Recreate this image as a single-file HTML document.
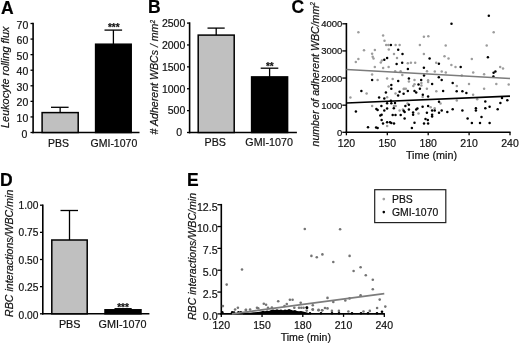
<!DOCTYPE html>
<html><head><meta charset="utf-8"><title>Figure</title>
<style>
html,body{margin:0;padding:0;background:#fff;}
svg{display:block;will-change:transform;font-family:"Liberation Sans", Arial, sans-serif;}
</style></head>
<body>
<svg width="520" height="345" viewBox="0 0 520 345">
<rect x="0" y="0" width="520" height="345" fill="#fff"/>
<text x="0.90" y="13.50" font-size="17.5" text-anchor="start" font-weight="bold" font-style="normal" fill="#000" stroke="#000" stroke-width="0.2">A</text>
<line x1="33.10" y1="22.70" x2="33.10" y2="133.30" stroke="#000" stroke-width="1.6" stroke-linecap="butt"/>
<line x1="32.30" y1="132.50" x2="139.50" y2="132.50" stroke="#000" stroke-width="1.6" stroke-linecap="butt"/>
<line x1="30.50" y1="132.50" x2="33.10" y2="132.50" stroke="#000" stroke-width="1.3" stroke-linecap="butt"/>
<text x="27.30" y="137.60" font-size="10.5" text-anchor="end" font-weight="normal" font-style="normal" fill="#111" stroke="#111" stroke-width="0.2">0</text>
<line x1="30.50" y1="116.93" x2="33.10" y2="116.93" stroke="#000" stroke-width="1.3" stroke-linecap="butt"/>
<text x="28.30" y="122.01" font-size="10.5" text-anchor="end" font-weight="normal" font-style="normal" fill="#111" stroke="#111" stroke-width="0.2">10</text>
<line x1="30.50" y1="101.36" x2="33.10" y2="101.36" stroke="#000" stroke-width="1.3" stroke-linecap="butt"/>
<text x="28.30" y="106.43" font-size="10.5" text-anchor="end" font-weight="normal" font-style="normal" fill="#111" stroke="#111" stroke-width="0.2">20</text>
<line x1="30.50" y1="85.79" x2="33.10" y2="85.79" stroke="#000" stroke-width="1.3" stroke-linecap="butt"/>
<text x="28.30" y="90.84" font-size="10.5" text-anchor="end" font-weight="normal" font-style="normal" fill="#111" stroke="#111" stroke-width="0.2">30</text>
<line x1="30.50" y1="70.21" x2="33.10" y2="70.21" stroke="#000" stroke-width="1.3" stroke-linecap="butt"/>
<text x="28.30" y="75.26" font-size="10.5" text-anchor="end" font-weight="normal" font-style="normal" fill="#111" stroke="#111" stroke-width="0.2">40</text>
<line x1="30.50" y1="54.64" x2="33.10" y2="54.64" stroke="#000" stroke-width="1.3" stroke-linecap="butt"/>
<text x="28.30" y="59.67" font-size="10.5" text-anchor="end" font-weight="normal" font-style="normal" fill="#111" stroke="#111" stroke-width="0.2">50</text>
<line x1="30.50" y1="39.07" x2="33.10" y2="39.07" stroke="#000" stroke-width="1.3" stroke-linecap="butt"/>
<text x="28.30" y="44.09" font-size="10.5" text-anchor="end" font-weight="normal" font-style="normal" fill="#111" stroke="#111" stroke-width="0.2">60</text>
<line x1="30.50" y1="23.50" x2="33.10" y2="23.50" stroke="#000" stroke-width="1.3" stroke-linecap="butt"/>
<text x="28.30" y="28.50" font-size="10.5" text-anchor="end" font-weight="normal" font-style="normal" fill="#111" stroke="#111" stroke-width="0.2">70</text>
<rect x="42.10" y="112.60" width="36.10" height="19.90" fill="#c0c0c0" stroke="#000" stroke-width="1.5"/>
<line x1="60.15" y1="107.30" x2="60.15" y2="112.60" stroke="#000" stroke-width="1.3" stroke-linecap="butt"/>
<line x1="51.00" y1="107.30" x2="68.60" y2="107.30" stroke="#000" stroke-width="1.3" stroke-linecap="butt"/>
<rect x="95.60" y="44.20" width="35.60" height="88.30" fill="#000" stroke="#000" stroke-width="1.5"/>
<line x1="113.40" y1="30.10" x2="113.40" y2="44.20" stroke="#000" stroke-width="1.3" stroke-linecap="butt"/>
<line x1="104.50" y1="30.10" x2="122.10" y2="30.10" stroke="#000" stroke-width="1.3" stroke-linecap="butt"/>
<text x="113.80" y="31.40" font-size="10" text-anchor="middle" font-weight="bold" font-style="normal" fill="#111" stroke="#111" stroke-width="0.2">***</text>
<text x="58.50" y="146.70" font-size="10.5" text-anchor="middle" font-weight="normal" font-style="normal" fill="#111" stroke="#111" stroke-width="0.2">PBS</text>
<text x="113.90" y="146.70" font-size="10.5" text-anchor="middle" font-weight="normal" font-style="normal" fill="#111" stroke="#111" stroke-width="0.2">GMI-1070</text>
<text x="9.40" y="77.30" font-size="10.85" text-anchor="middle" font-weight="normal" font-style="italic" fill="#111" stroke="#111" stroke-width="0.2" transform="rotate(-90 9.4 77.3)">Leukocyte rolling flux</text>
<text x="147.90" y="12.80" font-size="17.5" text-anchor="start" font-weight="bold" font-style="normal" fill="#000" stroke="#000" stroke-width="0.2">B</text>
<line x1="189.60" y1="22.30" x2="189.60" y2="133.30" stroke="#000" stroke-width="1.6" stroke-linecap="butt"/>
<line x1="188.80" y1="132.50" x2="296.90" y2="132.50" stroke="#000" stroke-width="1.6" stroke-linecap="butt"/>
<line x1="187.00" y1="132.50" x2="189.60" y2="132.50" stroke="#000" stroke-width="1.3" stroke-linecap="butt"/>
<text x="182.20" y="136.00" font-size="10.5" text-anchor="end" font-weight="normal" font-style="normal" fill="#111" stroke="#111" stroke-width="0.2">0</text>
<line x1="187.00" y1="110.62" x2="189.60" y2="110.62" stroke="#000" stroke-width="1.3" stroke-linecap="butt"/>
<text x="185.30" y="114.26" font-size="10.5" text-anchor="end" font-weight="normal" font-style="normal" fill="#111" stroke="#111" stroke-width="0.2">500</text>
<line x1="187.00" y1="88.74" x2="189.60" y2="88.74" stroke="#000" stroke-width="1.3" stroke-linecap="butt"/>
<text x="185.30" y="92.52" font-size="10.5" text-anchor="end" font-weight="normal" font-style="normal" fill="#111" stroke="#111" stroke-width="0.2">1000</text>
<line x1="187.00" y1="66.86" x2="189.60" y2="66.86" stroke="#000" stroke-width="1.3" stroke-linecap="butt"/>
<text x="185.30" y="70.78" font-size="10.5" text-anchor="end" font-weight="normal" font-style="normal" fill="#111" stroke="#111" stroke-width="0.2">1500</text>
<line x1="187.00" y1="44.98" x2="189.60" y2="44.98" stroke="#000" stroke-width="1.3" stroke-linecap="butt"/>
<text x="185.30" y="49.04" font-size="10.5" text-anchor="end" font-weight="normal" font-style="normal" fill="#111" stroke="#111" stroke-width="0.2">2000</text>
<line x1="187.00" y1="23.10" x2="189.60" y2="23.10" stroke="#000" stroke-width="1.3" stroke-linecap="butt"/>
<text x="185.30" y="27.30" font-size="10.5" text-anchor="end" font-weight="normal" font-style="normal" fill="#111" stroke="#111" stroke-width="0.2">2500</text>
<rect x="198.20" y="35.10" width="36.00" height="97.40" fill="#c0c0c0" stroke="#000" stroke-width="1.5"/>
<line x1="216.20" y1="28.10" x2="216.20" y2="35.10" stroke="#000" stroke-width="1.3" stroke-linecap="butt"/>
<line x1="207.50" y1="28.10" x2="224.70" y2="28.10" stroke="#000" stroke-width="1.3" stroke-linecap="butt"/>
<rect x="251.60" y="76.90" width="36.00" height="55.60" fill="#000" stroke="#000" stroke-width="1.5"/>
<line x1="269.60" y1="68.20" x2="269.60" y2="76.90" stroke="#000" stroke-width="1.3" stroke-linecap="butt"/>
<line x1="260.70" y1="68.20" x2="278.30" y2="68.20" stroke="#000" stroke-width="1.3" stroke-linecap="butt"/>
<text x="269.80" y="70.00" font-size="10" text-anchor="middle" font-weight="bold" font-style="normal" fill="#111" stroke="#111" stroke-width="0.2">**</text>
<text x="215.30" y="145.60" font-size="10.7" text-anchor="middle" font-weight="normal" font-style="normal" fill="#111" stroke="#111" stroke-width="0.2">PBS</text>
<text x="269.10" y="145.60" font-size="10.7" text-anchor="middle" font-weight="normal" font-style="normal" fill="#111" stroke="#111" stroke-width="0.2">GMI-1070</text>
<text x="158.40" y="77.20" font-size="10.6" text-anchor="middle" font-weight="normal" font-style="italic" fill="#111" stroke="#111" stroke-width="0.2" transform="rotate(-90 158.4 77.2)"># Adherent WBCs / mm<tspan font-size="6.5" dy="-3.5">2</tspan></text>
<text x="291.40" y="13.00" font-size="17.5" text-anchor="start" font-weight="bold" font-style="normal" fill="#000" stroke="#000" stroke-width="0.2">C</text>
<line x1="346.40" y1="23.00" x2="346.40" y2="133.10" stroke="#000" stroke-width="1.6" stroke-linecap="butt"/>
<line x1="345.60" y1="132.30" x2="510.60" y2="132.30" stroke="#000" stroke-width="1.6" stroke-linecap="butt"/>
<line x1="342.30" y1="132.30" x2="346.40" y2="132.30" stroke="#000" stroke-width="1.3" stroke-linecap="butt"/>
<text x="342.40" y="136.40" font-size="9.5" text-anchor="end" font-weight="normal" font-style="normal" fill="#111" stroke="#111" stroke-width="0.2">0</text>
<line x1="342.30" y1="105.18" x2="346.40" y2="105.18" stroke="#000" stroke-width="1.3" stroke-linecap="butt"/>
<text x="342.40" y="108.95" font-size="9.5" text-anchor="end" font-weight="normal" font-style="normal" fill="#111" stroke="#111" stroke-width="0.2">1000</text>
<line x1="342.30" y1="78.05" x2="346.40" y2="78.05" stroke="#000" stroke-width="1.3" stroke-linecap="butt"/>
<text x="342.40" y="81.50" font-size="9.5" text-anchor="end" font-weight="normal" font-style="normal" fill="#111" stroke="#111" stroke-width="0.2">2000</text>
<line x1="342.30" y1="50.92" x2="346.40" y2="50.92" stroke="#000" stroke-width="1.3" stroke-linecap="butt"/>
<text x="342.40" y="54.05" font-size="9.5" text-anchor="end" font-weight="normal" font-style="normal" fill="#111" stroke="#111" stroke-width="0.2">3000</text>
<line x1="342.30" y1="23.80" x2="346.40" y2="23.80" stroke="#000" stroke-width="1.3" stroke-linecap="butt"/>
<text x="342.40" y="26.60" font-size="9.5" text-anchor="end" font-weight="normal" font-style="normal" fill="#111" stroke="#111" stroke-width="0.2">4000</text>
<line x1="346.40" y1="132.30" x2="346.40" y2="135.30" stroke="#000" stroke-width="1.3" stroke-linecap="butt"/>
<text x="346.40" y="147.40" font-size="10.5" text-anchor="middle" font-weight="normal" font-style="normal" fill="#111" stroke="#111" stroke-width="0.2">120</text>
<line x1="387.30" y1="132.30" x2="387.30" y2="135.30" stroke="#000" stroke-width="1.3" stroke-linecap="butt"/>
<text x="387.30" y="147.40" font-size="10.5" text-anchor="middle" font-weight="normal" font-style="normal" fill="#111" stroke="#111" stroke-width="0.2">150</text>
<line x1="428.20" y1="132.30" x2="428.20" y2="135.30" stroke="#000" stroke-width="1.3" stroke-linecap="butt"/>
<text x="428.20" y="147.40" font-size="10.5" text-anchor="middle" font-weight="normal" font-style="normal" fill="#111" stroke="#111" stroke-width="0.2">180</text>
<line x1="469.10" y1="132.30" x2="469.10" y2="135.30" stroke="#000" stroke-width="1.3" stroke-linecap="butt"/>
<text x="469.10" y="147.40" font-size="10.5" text-anchor="middle" font-weight="normal" font-style="normal" fill="#111" stroke="#111" stroke-width="0.2">210</text>
<line x1="510.00" y1="132.30" x2="510.00" y2="135.30" stroke="#000" stroke-width="1.3" stroke-linecap="butt"/>
<text x="510.00" y="147.40" font-size="10.5" text-anchor="middle" font-weight="normal" font-style="normal" fill="#111" stroke="#111" stroke-width="0.2">240</text>
<text x="431.50" y="158.80" font-size="10.8" text-anchor="middle" font-weight="normal" font-style="normal" fill="#111" stroke="#111" stroke-width="0.2">Time (min)</text>
<text x="318.70" y="74.30" font-size="10.6" text-anchor="middle" font-weight="normal" font-style="italic" fill="#111" stroke="#111" stroke-width="0.2" transform="rotate(-90 318.7 74.3)">number of adherent WBC/mm<tspan font-size="6.5" dy="-3.5">2</tspan></text>
<circle cx="358.4" cy="32.3" r="1.25" fill="#9c9c9c"/>
<circle cx="383.1" cy="35.5" r="1.25" fill="#9c9c9c"/>
<circle cx="384.5" cy="40.7" r="1.25" fill="#9c9c9c"/>
<circle cx="386.2" cy="45.0" r="1.25" fill="#9c9c9c"/>
<circle cx="388.3" cy="45.0" r="1.25" fill="#9c9c9c"/>
<circle cx="395.6" cy="45.0" r="1.25" fill="#9c9c9c"/>
<circle cx="399.6" cy="45.0" r="1.25" fill="#9c9c9c"/>
<circle cx="419.9" cy="45.0" r="1.25" fill="#9c9c9c"/>
<circle cx="423.9" cy="36.7" r="1.25" fill="#9c9c9c"/>
<circle cx="428.3" cy="36.2" r="1.25" fill="#9c9c9c"/>
<circle cx="364.0" cy="50.2" r="1.25" fill="#9c9c9c"/>
<circle cx="374.9" cy="49.9" r="1.25" fill="#9c9c9c"/>
<circle cx="388.8" cy="49.4" r="1.25" fill="#9c9c9c"/>
<circle cx="372.1" cy="53.7" r="1.25" fill="#9c9c9c"/>
<circle cx="372.7" cy="56.8" r="1.25" fill="#9c9c9c"/>
<circle cx="373.5" cy="58.6" r="1.25" fill="#9c9c9c"/>
<circle cx="394.0" cy="54.0" r="1.25" fill="#9c9c9c"/>
<circle cx="423.9" cy="54.0" r="1.25" fill="#9c9c9c"/>
<circle cx="358.4" cy="58.9" r="1.25" fill="#9c9c9c"/>
<circle cx="355.8" cy="61.9" r="1.25" fill="#9c9c9c"/>
<circle cx="397.0" cy="58.0" r="1.25" fill="#9c9c9c"/>
<circle cx="380.8" cy="62.4" r="1.25" fill="#9c9c9c"/>
<circle cx="381.9" cy="60.6" r="1.25" fill="#9c9c9c"/>
<circle cx="407.8" cy="63.3" r="1.25" fill="#9c9c9c"/>
<circle cx="410.9" cy="62.7" r="1.25" fill="#9c9c9c"/>
<circle cx="415.2" cy="62.7" r="1.25" fill="#9c9c9c"/>
<circle cx="374.8" cy="67.1" r="1.25" fill="#9c9c9c"/>
<circle cx="383.1" cy="68.0" r="1.25" fill="#9c9c9c"/>
<circle cx="388.6" cy="67.1" r="1.25" fill="#9c9c9c"/>
<circle cx="395.2" cy="71.2" r="1.25" fill="#9c9c9c"/>
<circle cx="400.6" cy="71.2" r="1.25" fill="#9c9c9c"/>
<circle cx="427.0" cy="71.2" r="1.25" fill="#9c9c9c"/>
<circle cx="493.7" cy="32.3" r="1.25" fill="#9c9c9c"/>
<circle cx="445.7" cy="45.4" r="1.25" fill="#9c9c9c"/>
<circle cx="486.7" cy="45.4" r="1.25" fill="#9c9c9c"/>
<circle cx="444.5" cy="56.3" r="1.25" fill="#9c9c9c"/>
<circle cx="448.5" cy="58.4" r="1.25" fill="#9c9c9c"/>
<circle cx="471.8" cy="58.9" r="1.25" fill="#9c9c9c"/>
<circle cx="436.2" cy="62.7" r="1.25" fill="#9c9c9c"/>
<circle cx="451.4" cy="65.1" r="1.25" fill="#9c9c9c"/>
<circle cx="455.5" cy="67.0" r="1.25" fill="#9c9c9c"/>
<circle cx="500.2" cy="67.0" r="1.25" fill="#9c9c9c"/>
<circle cx="503.0" cy="68.5" r="1.25" fill="#9c9c9c"/>
<circle cx="434.8" cy="71.4" r="1.25" fill="#9c9c9c"/>
<circle cx="441.7" cy="71.4" r="1.25" fill="#9c9c9c"/>
<circle cx="445.8" cy="72.5" r="1.25" fill="#9c9c9c"/>
<circle cx="473.2" cy="72.5" r="1.25" fill="#9c9c9c"/>
<circle cx="372.1" cy="74.4" r="1.25" fill="#9c9c9c"/>
<circle cx="377.6" cy="79.9" r="1.25" fill="#9c9c9c"/>
<circle cx="387.1" cy="78.5" r="1.25" fill="#9c9c9c"/>
<circle cx="392.7" cy="79.1" r="1.25" fill="#9c9c9c"/>
<circle cx="388.6" cy="86.6" r="1.25" fill="#9c9c9c"/>
<circle cx="366.6" cy="93.5" r="1.25" fill="#9c9c9c"/>
<circle cx="350.4" cy="97.6" r="1.25" fill="#9c9c9c"/>
<circle cx="395.5" cy="93.5" r="1.25" fill="#9c9c9c"/>
<circle cx="387.1" cy="97.2" r="1.25" fill="#9c9c9c"/>
<circle cx="403.7" cy="88.9" r="1.25" fill="#9c9c9c"/>
<circle cx="402.3" cy="75.0" r="1.25" fill="#9c9c9c"/>
<circle cx="414.5" cy="80.0" r="1.25" fill="#9c9c9c"/>
<circle cx="428.1" cy="80.2" r="1.25" fill="#9c9c9c"/>
<circle cx="428.1" cy="82.0" r="1.25" fill="#9c9c9c"/>
<circle cx="408.9" cy="81.4" r="1.25" fill="#9c9c9c"/>
<circle cx="414.5" cy="84.3" r="1.25" fill="#9c9c9c"/>
<circle cx="413.3" cy="86.0" r="1.25" fill="#9c9c9c"/>
<circle cx="421.4" cy="83.1" r="1.25" fill="#9c9c9c"/>
<circle cx="421.4" cy="85.4" r="1.25" fill="#9c9c9c"/>
<circle cx="456.8" cy="86.0" r="1.25" fill="#9c9c9c"/>
<circle cx="426.9" cy="88.7" r="1.25" fill="#9c9c9c"/>
<circle cx="404.1" cy="88.7" r="1.25" fill="#9c9c9c"/>
<circle cx="405.8" cy="88.7" r="1.25" fill="#9c9c9c"/>
<circle cx="436.3" cy="91.2" r="1.25" fill="#9c9c9c"/>
<circle cx="422.6" cy="97.0" r="1.25" fill="#9c9c9c"/>
<circle cx="456.8" cy="100.4" r="1.25" fill="#9c9c9c"/>
<circle cx="407.5" cy="103.4" r="1.25" fill="#9c9c9c"/>
<circle cx="484.1" cy="74.2" r="1.25" fill="#9c9c9c"/>
<circle cx="469.0" cy="83.9" r="1.25" fill="#9c9c9c"/>
<circle cx="496.3" cy="83.9" r="1.25" fill="#9c9c9c"/>
<circle cx="508.7" cy="84.5" r="1.25" fill="#9c9c9c"/>
<circle cx="484.1" cy="88.7" r="1.25" fill="#9c9c9c"/>
<circle cx="473.1" cy="94.7" r="1.25" fill="#9c9c9c"/>
<circle cx="477.2" cy="99.3" r="1.25" fill="#9c9c9c"/>
<circle cx="461.8" cy="75.6" r="1.25" fill="#9c9c9c"/>
<circle cx="372.1" cy="106.1" r="1.25" fill="#9c9c9c"/>
<circle cx="394.0" cy="106.1" r="1.25" fill="#9c9c9c"/>
<circle cx="395.7" cy="106.1" r="1.25" fill="#9c9c9c"/>
<circle cx="399.6" cy="110.5" r="1.25" fill="#9c9c9c"/>
<circle cx="387.1" cy="126.1" r="1.25" fill="#9c9c9c"/>
<circle cx="418.5" cy="113.6" r="1.25" fill="#9c9c9c"/>
<circle cx="430.7" cy="107.3" r="1.25" fill="#9c9c9c"/>
<circle cx="434.7" cy="108.2" r="1.25" fill="#9c9c9c"/>
<circle cx="402.9" cy="109.6" r="1.25" fill="#9c9c9c"/>
<circle cx="440.5" cy="103.4" r="1.25" fill="#9c9c9c"/>
<circle cx="390.9" cy="45.0" r="1.25" fill="#000"/>
<circle cx="398.2" cy="49.7" r="1.25" fill="#000"/>
<circle cx="402.5" cy="54.0" r="1.25" fill="#000"/>
<circle cx="387.1" cy="58.0" r="1.25" fill="#000"/>
<circle cx="384.3" cy="59.8" r="1.25" fill="#000"/>
<circle cx="396.6" cy="64.0" r="1.25" fill="#000"/>
<circle cx="402.2" cy="62.7" r="1.25" fill="#000"/>
<circle cx="407.9" cy="68.9" r="1.25" fill="#000"/>
<circle cx="423.9" cy="67.8" r="1.25" fill="#000"/>
<circle cx="429.6" cy="58.4" r="1.25" fill="#000"/>
<circle cx="488.8" cy="15.8" r="1.25" fill="#000"/>
<circle cx="451.5" cy="23.8" r="1.25" fill="#000"/>
<circle cx="487.9" cy="57.2" r="1.25" fill="#000"/>
<circle cx="438.9" cy="63.8" r="1.25" fill="#000"/>
<circle cx="460.7" cy="67.1" r="1.25" fill="#000"/>
<circle cx="493.6" cy="72.7" r="1.25" fill="#000"/>
<circle cx="495.4" cy="71.5" r="1.25" fill="#000"/>
<circle cx="372.1" cy="80.0" r="1.25" fill="#000"/>
<circle cx="398.2" cy="81.1" r="1.25" fill="#000"/>
<circle cx="391.3" cy="84.9" r="1.25" fill="#000"/>
<circle cx="391.3" cy="88.7" r="1.25" fill="#000"/>
<circle cx="361.4" cy="91.0" r="1.25" fill="#000"/>
<circle cx="385.9" cy="92.6" r="1.25" fill="#000"/>
<circle cx="399.6" cy="91.8" r="1.25" fill="#000"/>
<circle cx="398.1" cy="95.5" r="1.25" fill="#000"/>
<circle cx="379.1" cy="97.6" r="1.25" fill="#000"/>
<circle cx="384.3" cy="98.4" r="1.25" fill="#000"/>
<circle cx="403.6" cy="93.7" r="1.25" fill="#000"/>
<circle cx="390.9" cy="100.8" r="1.25" fill="#000"/>
<circle cx="424.0" cy="75.6" r="1.25" fill="#000"/>
<circle cx="408.9" cy="78.5" r="1.25" fill="#000"/>
<circle cx="421.2" cy="79.9" r="1.25" fill="#000"/>
<circle cx="438.8" cy="77.3" r="1.25" fill="#000"/>
<circle cx="441.7" cy="80.0" r="1.25" fill="#000"/>
<circle cx="452.7" cy="83.1" r="1.25" fill="#000"/>
<circle cx="432.1" cy="83.9" r="1.25" fill="#000"/>
<circle cx="418.5" cy="84.6" r="1.25" fill="#000"/>
<circle cx="419.9" cy="88.7" r="1.25" fill="#000"/>
<circle cx="407.8" cy="90.9" r="1.25" fill="#000"/>
<circle cx="414.5" cy="90.9" r="1.25" fill="#000"/>
<circle cx="416.2" cy="92.4" r="1.25" fill="#000"/>
<circle cx="443.1" cy="90.9" r="1.25" fill="#000"/>
<circle cx="456.7" cy="91.2" r="1.25" fill="#000"/>
<circle cx="422.8" cy="94.7" r="1.25" fill="#000"/>
<circle cx="428.1" cy="96.4" r="1.25" fill="#000"/>
<circle cx="439.0" cy="101.8" r="1.25" fill="#000"/>
<circle cx="493.4" cy="76.5" r="1.25" fill="#000"/>
<circle cx="462.4" cy="91.2" r="1.25" fill="#000"/>
<circle cx="466.4" cy="93.0" r="1.25" fill="#000"/>
<circle cx="485.3" cy="101.4" r="1.25" fill="#000"/>
<circle cx="502.0" cy="97.9" r="1.25" fill="#000"/>
<circle cx="507.3" cy="100.3" r="1.25" fill="#000"/>
<circle cx="500.4" cy="103.0" r="1.25" fill="#000"/>
<circle cx="387.1" cy="103.2" r="1.25" fill="#000"/>
<circle cx="391.3" cy="103.2" r="1.25" fill="#000"/>
<circle cx="395.0" cy="103.0" r="1.25" fill="#000"/>
<circle cx="381.4" cy="106.1" r="1.25" fill="#000"/>
<circle cx="376.4" cy="109.0" r="1.25" fill="#000"/>
<circle cx="377.6" cy="109.9" r="1.25" fill="#000"/>
<circle cx="387.1" cy="108.4" r="1.25" fill="#000"/>
<circle cx="384.3" cy="110.5" r="1.25" fill="#000"/>
<circle cx="393.8" cy="108.2" r="1.25" fill="#000"/>
<circle cx="355.9" cy="111.6" r="1.25" fill="#000"/>
<circle cx="380.3" cy="115.6" r="1.25" fill="#000"/>
<circle cx="381.6" cy="114.8" r="1.25" fill="#000"/>
<circle cx="392.7" cy="115.0" r="1.25" fill="#000"/>
<circle cx="395.5" cy="115.0" r="1.25" fill="#000"/>
<circle cx="400.7" cy="115.0" r="1.25" fill="#000"/>
<circle cx="403.7" cy="110.7" r="1.25" fill="#000"/>
<circle cx="381.6" cy="120.0" r="1.25" fill="#000"/>
<circle cx="383.0" cy="123.5" r="1.25" fill="#000"/>
<circle cx="387.1" cy="122.3" r="1.25" fill="#000"/>
<circle cx="390.0" cy="122.3" r="1.25" fill="#000"/>
<circle cx="391.3" cy="122.9" r="1.25" fill="#000"/>
<circle cx="394.0" cy="123.5" r="1.25" fill="#000"/>
<circle cx="368.0" cy="127.3" r="1.25" fill="#000"/>
<circle cx="376.1" cy="127.5" r="1.25" fill="#000"/>
<circle cx="377.6" cy="127.9" r="1.25" fill="#000"/>
<circle cx="405.4" cy="106.1" r="1.25" fill="#000"/>
<circle cx="408.9" cy="104.7" r="1.25" fill="#000"/>
<circle cx="408.9" cy="109.6" r="1.25" fill="#000"/>
<circle cx="404.6" cy="111.9" r="1.25" fill="#000"/>
<circle cx="404.6" cy="118.6" r="1.25" fill="#000"/>
<circle cx="413.1" cy="112.5" r="1.25" fill="#000"/>
<circle cx="413.1" cy="114.8" r="1.25" fill="#000"/>
<circle cx="416.2" cy="109.6" r="1.25" fill="#000"/>
<circle cx="417.4" cy="108.4" r="1.25" fill="#000"/>
<circle cx="422.6" cy="106.7" r="1.25" fill="#000"/>
<circle cx="428.1" cy="106.1" r="1.25" fill="#000"/>
<circle cx="426.9" cy="112.8" r="1.25" fill="#000"/>
<circle cx="432.1" cy="110.5" r="1.25" fill="#000"/>
<circle cx="434.7" cy="110.5" r="1.25" fill="#000"/>
<circle cx="432.1" cy="114.8" r="1.25" fill="#000"/>
<circle cx="432.1" cy="116.5" r="1.25" fill="#000"/>
<circle cx="439.0" cy="112.8" r="1.25" fill="#000"/>
<circle cx="441.7" cy="110.5" r="1.25" fill="#000"/>
<circle cx="447.3" cy="111.9" r="1.25" fill="#000"/>
<circle cx="452.7" cy="109.2" r="1.25" fill="#000"/>
<circle cx="425.5" cy="118.9" r="1.25" fill="#000"/>
<circle cx="427.8" cy="120.0" r="1.25" fill="#000"/>
<circle cx="414.5" cy="122.7" r="1.25" fill="#000"/>
<circle cx="424.0" cy="123.5" r="1.25" fill="#000"/>
<circle cx="428.1" cy="123.5" r="1.25" fill="#000"/>
<circle cx="411.9" cy="128.1" r="1.25" fill="#000"/>
<circle cx="489.6" cy="106.7" r="1.25" fill="#000"/>
<circle cx="485.3" cy="108.2" r="1.25" fill="#000"/>
<circle cx="497.7" cy="109.2" r="1.25" fill="#000"/>
<circle cx="475.9" cy="108.2" r="1.25" fill="#000"/>
<circle cx="475.9" cy="110.5" r="1.25" fill="#000"/>
<circle cx="462.4" cy="110.5" r="1.25" fill="#000"/>
<circle cx="481.5" cy="116.9" r="1.25" fill="#000"/>
<circle cx="467.6" cy="118.6" r="1.25" fill="#000"/>
<circle cx="471.9" cy="122.9" r="1.25" fill="#000"/>
<circle cx="480.0" cy="122.9" r="1.25" fill="#000"/>
<circle cx="489.6" cy="122.9" r="1.25" fill="#000"/>
<line x1="346.40" y1="69.50" x2="510.00" y2="78.50" stroke="#7c7c7c" stroke-width="1.55" stroke-linecap="butt"/>
<line x1="346.40" y1="103.00" x2="510.00" y2="96.20" stroke="#000" stroke-width="1.7" stroke-linecap="butt"/>
<text x="0.00" y="186.10" font-size="17.5" text-anchor="start" font-weight="bold" font-style="normal" fill="#000" stroke="#000" stroke-width="0.2">D</text>
<line x1="42.80" y1="204.40" x2="42.80" y2="314.60" stroke="#000" stroke-width="1.6" stroke-linecap="butt"/>
<line x1="42.00" y1="313.80" x2="149.40" y2="313.80" stroke="#000" stroke-width="1.6" stroke-linecap="butt"/>
<line x1="40.00" y1="313.80" x2="42.80" y2="313.80" stroke="#000" stroke-width="1.3" stroke-linecap="butt"/>
<text x="38.40" y="318.80" font-size="10.2" text-anchor="end" font-weight="normal" font-style="normal" fill="#111" stroke="#111" stroke-width="0.2">0.00</text>
<line x1="40.00" y1="286.65" x2="42.80" y2="286.65" stroke="#000" stroke-width="1.3" stroke-linecap="butt"/>
<text x="38.40" y="291.25" font-size="10.2" text-anchor="end" font-weight="normal" font-style="normal" fill="#111" stroke="#111" stroke-width="0.2">0.25</text>
<line x1="40.00" y1="259.50" x2="42.80" y2="259.50" stroke="#000" stroke-width="1.3" stroke-linecap="butt"/>
<text x="38.40" y="263.70" font-size="10.2" text-anchor="end" font-weight="normal" font-style="normal" fill="#111" stroke="#111" stroke-width="0.2">0.50</text>
<line x1="40.00" y1="232.35" x2="42.80" y2="232.35" stroke="#000" stroke-width="1.3" stroke-linecap="butt"/>
<text x="38.40" y="236.15" font-size="10.2" text-anchor="end" font-weight="normal" font-style="normal" fill="#111" stroke="#111" stroke-width="0.2">0.75</text>
<line x1="40.00" y1="205.20" x2="42.80" y2="205.20" stroke="#000" stroke-width="1.3" stroke-linecap="butt"/>
<text x="38.40" y="208.60" font-size="10.2" text-anchor="end" font-weight="normal" font-style="normal" fill="#111" stroke="#111" stroke-width="0.2">1.00</text>
<rect x="51.80" y="240.00" width="35.40" height="73.80" fill="#c0c0c0" stroke="#000" stroke-width="1.5"/>
<line x1="69.50" y1="210.50" x2="69.50" y2="240.00" stroke="#000" stroke-width="1.3" stroke-linecap="butt"/>
<line x1="60.50" y1="210.50" x2="78.00" y2="210.50" stroke="#000" stroke-width="1.3" stroke-linecap="butt"/>
<rect x="105.00" y="309.80" width="36.00" height="4.00" fill="#000" stroke="#000" stroke-width="1.5"/>
<line x1="114.50" y1="308.70" x2="131.70" y2="308.70" stroke="#000" stroke-width="1.3" stroke-linecap="butt"/>
<text x="123.00" y="310.50" font-size="10" text-anchor="middle" font-weight="bold" font-style="normal" fill="#111" stroke="#111" stroke-width="0.2">***</text>
<text x="69.70" y="327.50" font-size="10.8" text-anchor="middle" font-weight="normal" font-style="normal" fill="#111" stroke="#111" stroke-width="0.2">PBS</text>
<text x="122.50" y="327.50" font-size="10.8" text-anchor="middle" font-weight="normal" font-style="normal" fill="#111" stroke="#111" stroke-width="0.2">GMI-1070</text>
<text x="13.00" y="253.30" font-size="10.6" text-anchor="middle" font-weight="normal" font-style="italic" fill="#111" stroke="#111" stroke-width="0.2" transform="rotate(-90 13.0 253.3)">RBC interactions/WBC/min</text>
<text x="186.90" y="186.20" font-size="17.5" text-anchor="start" font-weight="bold" font-style="normal" fill="#000" stroke="#000" stroke-width="0.2">E</text>
<line x1="221.30" y1="203.90" x2="221.30" y2="314.70" stroke="#000" stroke-width="1.6" stroke-linecap="butt"/>
<line x1="220.50" y1="313.90" x2="384.90" y2="313.90" stroke="#000" stroke-width="1.6" stroke-linecap="butt"/>
<line x1="217.40" y1="313.90" x2="221.30" y2="313.90" stroke="#000" stroke-width="1.3" stroke-linecap="butt"/>
<text x="217.60" y="319.80" font-size="10.6" text-anchor="end" font-weight="normal" font-style="normal" fill="#111" stroke="#111" stroke-width="0.2">0.0</text>
<line x1="217.40" y1="292.06" x2="221.30" y2="292.06" stroke="#000" stroke-width="1.3" stroke-linecap="butt"/>
<text x="217.60" y="297.96" font-size="10.6" text-anchor="end" font-weight="normal" font-style="normal" fill="#111" stroke="#111" stroke-width="0.2">2.5</text>
<line x1="217.40" y1="270.22" x2="221.30" y2="270.22" stroke="#000" stroke-width="1.3" stroke-linecap="butt"/>
<text x="217.60" y="276.12" font-size="10.6" text-anchor="end" font-weight="normal" font-style="normal" fill="#111" stroke="#111" stroke-width="0.2">5.0</text>
<line x1="217.40" y1="248.38" x2="221.30" y2="248.38" stroke="#000" stroke-width="1.3" stroke-linecap="butt"/>
<text x="217.60" y="254.28" font-size="10.6" text-anchor="end" font-weight="normal" font-style="normal" fill="#111" stroke="#111" stroke-width="0.2">7.5</text>
<line x1="217.40" y1="226.54" x2="221.30" y2="226.54" stroke="#000" stroke-width="1.3" stroke-linecap="butt"/>
<text x="217.60" y="232.44" font-size="10.6" text-anchor="end" font-weight="normal" font-style="normal" fill="#111" stroke="#111" stroke-width="0.2">10.0</text>
<line x1="217.40" y1="204.70" x2="221.30" y2="204.70" stroke="#000" stroke-width="1.3" stroke-linecap="butt"/>
<text x="217.60" y="210.60" font-size="10.6" text-anchor="end" font-weight="normal" font-style="normal" fill="#111" stroke="#111" stroke-width="0.2">12.5</text>
<line x1="221.30" y1="313.90" x2="221.30" y2="316.90" stroke="#000" stroke-width="1.3" stroke-linecap="butt"/>
<text x="221.30" y="329.30" font-size="10.5" text-anchor="middle" font-weight="normal" font-style="normal" fill="#111" stroke="#111" stroke-width="0.2">120</text>
<line x1="262.05" y1="313.90" x2="262.05" y2="316.90" stroke="#000" stroke-width="1.3" stroke-linecap="butt"/>
<text x="262.05" y="329.30" font-size="10.5" text-anchor="middle" font-weight="normal" font-style="normal" fill="#111" stroke="#111" stroke-width="0.2">150</text>
<line x1="302.80" y1="313.90" x2="302.80" y2="316.90" stroke="#000" stroke-width="1.3" stroke-linecap="butt"/>
<text x="302.80" y="329.30" font-size="10.5" text-anchor="middle" font-weight="normal" font-style="normal" fill="#111" stroke="#111" stroke-width="0.2">180</text>
<line x1="343.55" y1="313.90" x2="343.55" y2="316.90" stroke="#000" stroke-width="1.3" stroke-linecap="butt"/>
<text x="343.55" y="329.30" font-size="10.5" text-anchor="middle" font-weight="normal" font-style="normal" fill="#111" stroke="#111" stroke-width="0.2">210</text>
<line x1="384.30" y1="313.90" x2="384.30" y2="316.90" stroke="#000" stroke-width="1.3" stroke-linecap="butt"/>
<text x="384.30" y="329.30" font-size="10.5" text-anchor="middle" font-weight="normal" font-style="normal" fill="#111" stroke="#111" stroke-width="0.2">240</text>
<text x="305.80" y="340.80" font-size="10.6" text-anchor="middle" font-weight="normal" font-style="normal" fill="#111" stroke="#111" stroke-width="0.2">Time (min)</text>
<text x="196.00" y="256.50" font-size="10.6" text-anchor="middle" font-weight="normal" font-style="italic" fill="#111" stroke="#111" stroke-width="0.2" transform="rotate(-90 196.0 256.5)">RBC interactions/WBC/min</text>
<circle cx="304.8" cy="229.0" r="1.3" fill="#747474"/>
<circle cx="340.1" cy="229.2" r="1.3" fill="#747474"/>
<circle cx="311.4" cy="255.9" r="1.3" fill="#747474"/>
<circle cx="316.8" cy="257.3" r="1.3" fill="#747474"/>
<circle cx="322.4" cy="254.4" r="1.3" fill="#747474"/>
<circle cx="349.6" cy="255.9" r="1.3" fill="#747474"/>
<circle cx="333.3" cy="262.0" r="1.3" fill="#747474"/>
<circle cx="360.6" cy="267.2" r="1.3" fill="#747474"/>
<circle cx="353.6" cy="271.0" r="1.3" fill="#747474"/>
<circle cx="365.8" cy="275.3" r="1.3" fill="#747474"/>
<circle cx="372.8" cy="279.7" r="1.3" fill="#747474"/>
<circle cx="372.8" cy="289.2" r="1.3" fill="#747474"/>
<circle cx="327.5" cy="297.9" r="1.3" fill="#747474"/>
<circle cx="333.3" cy="301.9" r="1.3" fill="#747474"/>
<circle cx="345.3" cy="300.5" r="1.3" fill="#747474"/>
<circle cx="349.6" cy="298.4" r="1.3" fill="#747474"/>
<circle cx="360.6" cy="295.3" r="1.3" fill="#747474"/>
<circle cx="379.7" cy="299.6" r="1.3" fill="#747474"/>
<circle cx="385.3" cy="306.6" r="1.3" fill="#747474"/>
<circle cx="377.1" cy="308.0" r="1.3" fill="#747474"/>
<circle cx="312.8" cy="305.2" r="1.3" fill="#747474"/>
<circle cx="325.0" cy="308.0" r="1.3" fill="#747474"/>
<circle cx="327.5" cy="308.4" r="1.3" fill="#747474"/>
<circle cx="312.8" cy="309.7" r="1.3" fill="#747474"/>
<circle cx="306.7" cy="310.6" r="1.3" fill="#747474"/>
<circle cx="318.6" cy="309.9" r="1.3" fill="#747474"/>
<circle cx="322.3" cy="310.2" r="1.3" fill="#747474"/>
<circle cx="331.9" cy="310.9" r="1.3" fill="#747474"/>
<circle cx="338.9" cy="310.9" r="1.3" fill="#747474"/>
<circle cx="348.4" cy="311.5" r="1.3" fill="#747474"/>
<circle cx="363.5" cy="311.5" r="1.3" fill="#747474"/>
<circle cx="369.8" cy="310.9" r="1.3" fill="#747474"/>
<circle cx="226.7" cy="284.6" r="1.3" fill="#747474"/>
<circle cx="222.9" cy="306.1" r="1.3" fill="#747474"/>
<circle cx="235.1" cy="309.5" r="1.3" fill="#747474"/>
<circle cx="237.9" cy="307.8" r="1.3" fill="#747474"/>
<circle cx="245.8" cy="310.1" r="1.3" fill="#747474"/>
<circle cx="250.1" cy="309.5" r="1.3" fill="#747474"/>
<circle cx="257.0" cy="307.8" r="1.3" fill="#747474"/>
<circle cx="263.8" cy="303.7" r="1.3" fill="#747474"/>
<circle cx="266.1" cy="304.7" r="1.3" fill="#747474"/>
<circle cx="268.0" cy="307.8" r="1.3" fill="#747474"/>
<circle cx="271.9" cy="307.6" r="1.3" fill="#747474"/>
<circle cx="278.2" cy="301.3" r="1.3" fill="#747474"/>
<circle cx="289.9" cy="299.7" r="1.3" fill="#747474"/>
<circle cx="292.6" cy="299.7" r="1.3" fill="#747474"/>
<circle cx="286.8" cy="304.0" r="1.3" fill="#747474"/>
<circle cx="300.7" cy="302.8" r="1.3" fill="#747474"/>
<circle cx="284.5" cy="306.0" r="1.3" fill="#747474"/>
<circle cx="299.0" cy="307.8" r="1.3" fill="#747474"/>
<circle cx="301.3" cy="307.8" r="1.3" fill="#747474"/>
<circle cx="303.6" cy="307.8" r="1.3" fill="#747474"/>
<circle cx="294.3" cy="307.8" r="1.3" fill="#747474"/>
<circle cx="242.0" cy="269.5" r="1.3" fill="#747474"/>
<circle cx="246.0" cy="309.8" r="1.3" fill="#747474"/>
<circle cx="258.2" cy="308.2" r="1.3" fill="#747474"/>
<circle cx="312.7" cy="309.2" r="1.3" fill="#747474"/>
<circle cx="318.5" cy="310.3" r="1.3" fill="#747474"/>
<circle cx="322.0" cy="310.3" r="1.3" fill="#747474"/>
<circle cx="306.7" cy="307.6" r="1.3" fill="#000"/>
<circle cx="307.1" cy="307.8" r="1.3" fill="#000"/>
<circle cx="382.0" cy="311.8" r="1.3" fill="#000"/>
<circle cx="222.3" cy="312.2" r="1.3" fill="#000"/>
<circle cx="232.2" cy="312.3" r="1.3" fill="#000"/>
<circle cx="234.0" cy="312.5" r="1.3" fill="#000"/>
<circle cx="238.5" cy="312.3" r="1.3" fill="#000"/>
<circle cx="240.8" cy="312.2" r="1.3" fill="#000"/>
<circle cx="310.0" cy="313.2" r="1.3" fill="#000"/>
<circle cx="321.0" cy="313.2" r="1.3" fill="#000"/>
<circle cx="332.0" cy="313.2" r="1.3" fill="#000"/>
<circle cx="339.0" cy="313.2" r="1.3" fill="#000"/>
<circle cx="352.0" cy="313.2" r="1.3" fill="#000"/>
<circle cx="361.0" cy="313.2" r="1.3" fill="#000"/>
<circle cx="368.0" cy="313.2" r="1.3" fill="#000"/>
<circle cx="377.0" cy="313.2" r="1.3" fill="#000"/>
<path d="M243,314.6 L243,312.9 L247,312.6 L250,312.8 L254,312.3 L258,312.0 L261,311.4 L263,310.8 L265,311.3 L267,310.6 L269,310.9 L271,309.9 L273,309.4 L275,309.9 L277,309.3 L279,310.1 L281,309.5 L283,310.2 L285,309.4 L287,310.0 L289,309.0 L291,309.7 L293,310.4 L295,310.1 L297,310.9 L299,311.3 L301,311.0 L303,311.6 L305,311.9 L307,312.4 L309,313.2 L309,314.6 Z" fill="#000"/>
<line x1="232.00" y1="313.90" x2="384.30" y2="293.60" stroke="#7c7c7c" stroke-width="1.7" stroke-linecap="butt"/>
<rect x="374.70" y="189.70" width="71.10" height="32.90" fill="none" stroke="#222" stroke-width="1.2"/>
<circle cx="383.8" cy="199.1" r="1.35" fill="#a0a0a0"/>
<circle cx="383.8" cy="212.1" r="1.3" fill="#000"/>
<text x="392.00" y="202.70" font-size="10.4" text-anchor="start" font-weight="normal" font-style="normal" fill="#111" stroke="#111" stroke-width="0.2">PBS</text>
<text x="392.00" y="215.70" font-size="10.4" text-anchor="start" font-weight="normal" font-style="normal" fill="#111" stroke="#111" stroke-width="0.2">GMI-1070</text>
</svg>
</body></html>
